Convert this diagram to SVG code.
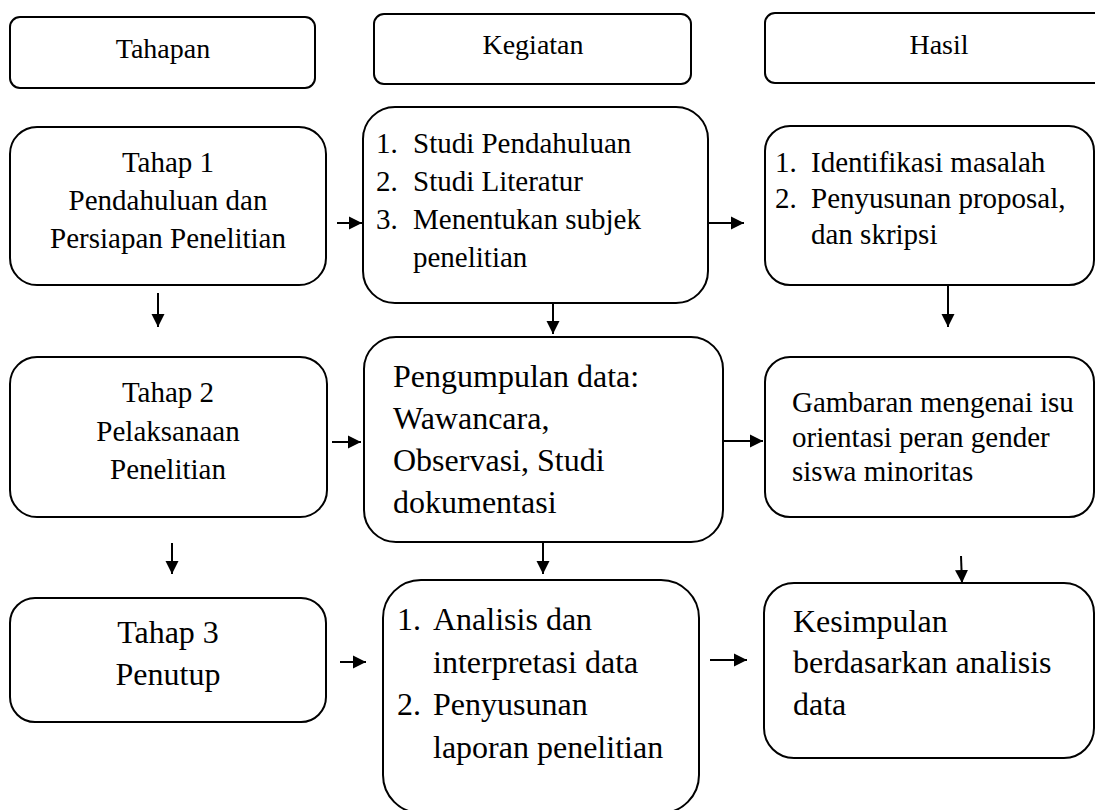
<svg xmlns="http://www.w3.org/2000/svg" width="1095" height="810" viewBox="0 0 1095 810" font-family="Liberation Serif, Tinos, Times New Roman, DejaVu Serif, serif">
<style>
.box{fill:#fff;stroke:#000;stroke-width:2}
text{font-family:'Liberation Serif','Tinos','Times New Roman','DejaVu Serif',serif;fill:#000}
.c{text-anchor:middle}
.s28{font-size:28px}
.s29{font-size:29px}
.s32{font-size:32px}
.conn line{stroke:#000;stroke-width:2;marker-end:url(#ah)}
</style>
<defs>
<marker id="ah" markerUnits="userSpaceOnUse" markerWidth="14" markerHeight="14" refX="13" refY="7" orient="auto">
<path d="M0,0.5 L13,7 L0,13.5 z" fill="#000"/>
</marker>
</defs>
<rect width="1095" height="810" fill="#fff"/>

<g id="h-tahapan">
<rect class="box" x="10" y="17" width="305" height="71" rx="10"/>
<text class="c s28" x="163" y="58">Tahapan</text>
</g>
<g id="h-kegiatan">
<rect class="box" x="374" y="14" width="317" height="70" rx="10"/>
<text class="c s28" x="533" y="54">Kegiatan</text>
</g>
<g id="h-hasil">
<rect class="box" x="765" y="13" width="348" height="70" rx="10"/>
<text class="c s28" x="939" y="54">Hasil</text>
</g>

<g id="tahap1">
<rect class="box" x="10" y="127" width="316" height="158" rx="27"/>
<text class="c s29" x="168" y="172">Tahap 1</text>
<text class="c s29" x="168" y="210">Pendahuluan dan</text>
<text class="c s29" x="168" y="248">Persiapan Penelitian</text>
</g>
<g id="kegiatan1">
<rect class="box" x="363" y="107" width="345" height="196" rx="32"/>
<text class="s29" x="376" y="153">1.</text><text class="s29" x="413" y="153">Studi Pendahuluan</text>
<text class="s29" x="376" y="191">2.</text><text class="s29" x="413" y="191">Studi Literatur</text>
<text class="s29" x="376" y="229">3.</text><text class="s29" x="413" y="229">Menentukan subjek</text>
<text class="s29" x="413" y="267">penelitian</text>
</g>
<g id="hasil1">
<rect class="box" x="765" y="126" width="329" height="159" rx="25"/>
<text class="s29" x="775" y="172">1.</text><text class="s29" x="811" y="172">Identifikasi masalah</text>
<text class="s29" x="775" y="208">2.</text><text class="s29" x="811" y="208">Penyusunan proposal,</text>
<text class="s29" x="811" y="244">dan skripsi</text>
</g>

<g id="tahap2">
<rect class="box" x="10" y="357" width="317" height="160" rx="27"/>
<text class="c s29" x="168" y="402">Tahap 2</text>
<text class="c s29" x="168" y="441">Pelaksanaan</text>
<text class="c s29" x="168" y="479">Penelitian</text>
</g>
<g id="kegiatan2">
<rect class="box" x="364" y="337" width="359" height="205" rx="32"/>
<text class="s32" x="393" y="387">Pengumpulan data:</text>
<text class="s32" x="393" y="429">Wawancara,</text>
<text class="s32" x="393" y="471">Observasi, Studi</text>
<text class="s32" x="393" y="513">dokumentasi</text>
</g>
<g id="hasil2">
<rect class="box" x="765" y="357" width="329" height="160" rx="25"/>
<text class="s29" x="792" y="412">Gambaran mengenai isu</text>
<text class="s29" x="792" y="447">orientasi peran gender</text>
<text class="s29" x="792" y="481">siswa minoritas</text>
</g>

<g id="tahap3">
<rect class="box" x="10" y="598" width="316" height="124" rx="25"/>
<text class="c s32" x="168" y="643">Tahap 3</text>
<text class="c s32" x="168" y="685">Penutup</text>
</g>
<g id="kegiatan3">
<rect class="box" x="383" y="580" width="316" height="233" rx="38"/>
<text class="s32" x="397" y="630">1.</text><text class="s32" x="433" y="630">Analisis dan</text>
<text class="s32" x="433" y="673">interpretasi data</text>
<text class="s32" x="397" y="715">2.</text><text class="s32" x="433" y="715">Penyusunan</text>
<text class="s32" x="433" y="758">laporan penelitian</text>
</g>
<g id="hasil3">
<rect class="box" x="764" y="583" width="330" height="175" rx="30"/>
<text class="s32" x="793" y="632">Kesimpulan</text>
<text class="s32" x="793" y="673">berdasarkan analisis</text>
<text class="s32" x="793" y="715">data</text>
</g>

<g id="connectors" class="conn">
<line x1="337" y1="223" x2="362" y2="223"/>
<line x1="708" y1="223" x2="744" y2="223"/>
<line x1="332" y1="442" x2="361" y2="442"/>
<line x1="723" y1="441" x2="763" y2="441"/>
<line x1="340" y1="662" x2="366" y2="662"/>
<line x1="710" y1="660" x2="747" y2="660"/>
<line x1="158" y1="293" x2="158" y2="327"/>
<line x1="172" y1="543" x2="172" y2="574"/>
<line x1="553" y1="303" x2="553" y2="334"/>
<line x1="543" y1="542" x2="543" y2="574"/>
<line x1="948" y1="285" x2="948" y2="327"/>
<line x1="961" y1="556" x2="962" y2="583"/>
</g>
</svg>
